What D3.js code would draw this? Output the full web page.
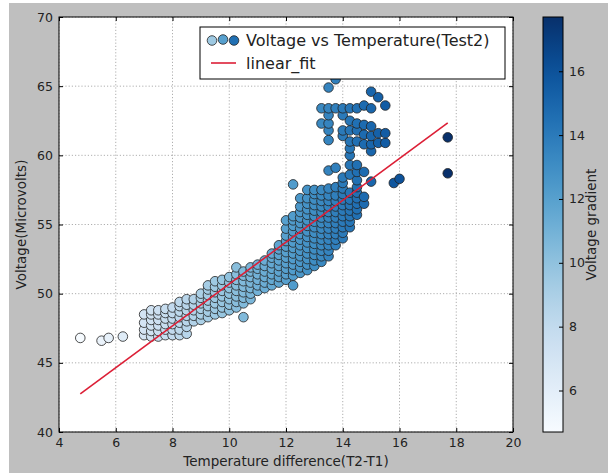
<!DOCTYPE html>
<html><head><meta charset="utf-8">
<script src="https://cdn.jsdelivr.net/npm/d3@7"></script>
<style>body{margin:0;background:#fff}svg{display:block}text{font-family:"DejaVu Sans",sans-serif;fill:#222}</style>
</head><body><svg id="c" width="608" height="473"></svg>
<script>
// ---- data ----
const xTicks = [4, 6, 8, 10, 12, 14, 16, 18, 20];
const yTicks = [40, 45, 50, 55, 60, 65, 70];
const colorbarTicks = [6, 8, 10, 12, 14, 16];
const colorDomain = [4.7, 17.7];

const columnTemps = [4.75, 5.5, 5.75, 6.25, 7.0, 7.25, 7.5, 7.75, 8.0, 8.25, 8.5, 8.75, 9.0, 9.25, 9.5, 9.75,
  10.0, 10.25, 10.5, 10.75, 11.0, 11.25, 11.5, 11.75, 12.0, 12.25, 12.5, 12.75, 13.0, 13.25, 13.5, 13.75,
  14.0, 14.25, 14.5, 14.75, 15.0, 15.25, 15.5, 15.8, 16.0, 17.7];
const columnVoltages = [
  [46.8], [46.6], [46.8], [46.9],
  [47.0, 47.4, 47.9, 48.5],
  [46.9, 47.3, 47.7, 48.1, 48.5, 48.8],
  [46.9, 47.3, 47.7, 48.1, 48.5, 48.8],
  [47.0, 47.4, 47.8, 48.2, 48.6, 48.9],
  [47.0, 47.4, 47.8, 48.2, 48.6, 49.0],
  [47.0, 47.4, 47.9, 48.3, 48.7, 49.1, 49.4],
  [47.1, 47.6, 48.0, 48.4, 48.8, 49.2, 49.6],
  [48.0, 48.4, 48.8, 49.2, 49.6],
  [48.1, 48.5, 48.9, 49.3, 49.7, 50.0],
  [48.3, 48.7, 49.1, 49.5, 49.9, 50.3, 50.6],
  [48.5, 48.9, 49.3, 49.7, 50.1, 50.5, 50.9],
  [48.6, 49.0, 49.4, 49.8, 50.2, 50.6, 51.0],
  [48.8, 49.2, 49.6, 50.0, 50.4, 50.8, 51.2],
  [49.0, 49.4, 49.8, 50.2, 50.6, 51.0, 51.4, 51.9],
  [48.3, 49.3, 49.7, 50.1, 50.5, 50.9, 51.3, 51.6],
  [49.6, 50.0, 50.4, 50.8, 51.2, 51.6, 51.9],
  [50.2, 50.6, 51.0, 51.4, 51.8, 52.1],
  [50.4, 50.8, 51.2, 51.6, 52.0, 52.4],
  [50.6, 51.0, 51.4, 51.8, 52.2, 52.6, 52.9],
  [50.8, 51.2, 51.6, 52.0, 52.4, 52.8, 53.2, 53.5],
  [51.0, 51.4, 51.8, 52.2, 52.6, 53.0, 53.4, 53.8, 54.2, 54.7, 55.3],
  [50.6, 51.3, 51.7, 52.1, 52.5, 52.9, 53.3, 53.7, 54.1, 54.5, 54.9, 55.3, 55.6, 57.9],
  [51.5, 51.9, 52.3, 52.7, 53.1, 53.5, 53.9, 54.3, 54.7, 55.1, 55.5, 55.9, 56.3, 56.9],
  [51.7, 52.1, 52.5, 52.9, 53.3, 53.7, 54.1, 54.5, 54.9, 55.3, 55.7, 56.1, 56.5, 56.9, 57.5],
  [52.0, 52.4, 52.8, 53.2, 53.6, 54.0, 54.4, 54.8, 55.2, 55.6, 56.0, 56.4, 56.8, 57.2, 57.5],
  [52.3, 52.7, 53.1, 53.5, 53.9, 54.3, 54.7, 55.1, 55.5, 55.9, 56.3, 56.7, 57.1, 57.5, 62.3, 63.4],
  [52.7, 53.1, 53.5, 53.9, 54.3, 54.7, 55.1, 55.5, 55.9, 56.3, 56.7, 57.1, 57.6, 58.9, 61.1, 61.8, 62.3, 62.9, 63.4, 64.9],
  [53.5, 53.9, 54.3, 54.7, 55.1, 55.5, 55.9, 56.3, 56.7, 57.1, 57.7, 59.1, 63.4, 65.5],
  [54.0, 54.4, 54.8, 55.2, 55.6, 56.0, 56.4, 56.8, 57.2, 57.6, 58.0, 58.4, 61.4, 61.8, 62.9, 63.4],
  [54.8, 55.2, 55.6, 56.0, 56.4, 56.8, 57.3, 58.6, 59.3, 60.0, 60.5, 61.0, 61.8, 62.5, 63.4],
  [55.7, 56.1, 56.5, 56.9, 57.3, 57.7, 58.2, 58.8, 59.3, 61.0, 61.8, 62.3, 63.4],
  [56.5, 57.0, 58.8, 60.8, 61.5, 62.2, 63.6],
  [58.1, 60.3, 60.8, 61.4, 62.1, 63.4, 64.6],
  [60.9, 61.6, 64.2],
  [60.9, 61.6, 63.6],
  [58.0],
  [58.3],
  [58.7, 61.3]
];
const fitTemps = [4.75, 17.7];
const fitVoltages = [42.75, 62.35];
const legendLabels = ["Voltage vs Temperature(Test2)", "linear_fit"];

// ---- drawing ----
const svg = d3.select("#c");
svg.append("rect").attr("x", 9).attr("y", 3).attr("width", 599).attr("height", 470).attr("fill", "#bfbfbf");

const L = 59, R = 513, T = 17, B = 432;
const x = d3.scaleLinear().domain([4, 20]).range([L, R]);
const y = d3.scaleLinear().domain([40, 70]).range([B, T]);
const color = d3.scaleSequential(d3.interpolateBlues).domain(colorDomain);

svg.append("rect").attr("x", L).attr("y", T).attr("width", R - L).attr("height", B - T).attr("fill", "#fff");

// grid
const grid = svg.append("g").attr("stroke", "#9a9a9a").attr("stroke-width", 0.8).attr("stroke-dasharray", "1.2,2");
grid.selectAll(".gx").data(xTicks).join("line")
  .attr("x1", d => x(d)).attr("x2", d => x(d)).attr("y1", T).attr("y2", B);
grid.selectAll(".gy").data(yTicks).join("line")
  .attr("y1", d => y(d)).attr("y2", d => y(d)).attr("x1", L).attr("x2", R);

// points
const points = columnTemps.flatMap((t, i) => columnVoltages[i].map(v => ({t, v})));
svg.append("g").selectAll("circle").data(points).join("circle")
  .attr("cx", d => x(d.t)).attr("cy", d => y(d.v)).attr("r", 4.8)
  .attr("fill", d => color(d.t)).attr("stroke", "#222").attr("stroke-width", 0.8);

// fit line
svg.append("path").datum(fitTemps.map((t, i) => [t, fitVoltages[i]]))
  .attr("d", d3.line().x(d => x(d[0])).y(d => y(d[1])))
  .attr("fill", "none").attr("stroke", "#dc1f36").attr("stroke-width", 1.6);

// axes
function styleAxis(g) {
  g.select(".domain").remove();
  g.selectAll(".tick line").attr("stroke", "#000");
  g.selectAll("text").attr("font-size", 12.5).attr("fill", "#222").style("font-family", '"DejaVu Sans",sans-serif');
}
svg.append("g").attr("transform", `translate(0,${B})`)
  .call(d3.axisBottom(x).tickValues(xTicks).tickSize(-4).tickPadding(6).tickFormat(d3.format("d"))).call(styleAxis);
svg.append("g").attr("transform", `translate(0,${T})`)
  .call(d3.axisTop(x).tickValues(xTicks).tickSize(-4).tickFormat("")).call(styleAxis);
svg.append("g").attr("transform", `translate(${L},0)`)
  .call(d3.axisLeft(y).tickValues(yTicks).tickSize(-4).tickPadding(6).tickFormat(d3.format("d"))).call(styleAxis);
svg.append("g").attr("transform", `translate(${R},0)`)
  .call(d3.axisRight(y).tickValues(yTicks).tickSize(-4).tickFormat("")).call(styleAxis);

svg.append("rect").attr("x", L).attr("y", T).attr("width", R - L).attr("height", B - T)
  .attr("fill", "none").attr("stroke", "#000").attr("stroke-width", 1);

// axis labels
svg.append("text").attr("x", (L + R) / 2).attr("y", 466).attr("text-anchor", "middle")
  .attr("font-size", 13.5).text("Temperature difference(T2-T1)");
svg.append("text").attr("transform", `translate(26,${(T + B) / 2}) rotate(-90)`).attr("text-anchor", "middle")
  .attr("font-size", 13.5).text("Voltage(Microvolts)");

// legend
const lg = svg.append("g");
lg.append("rect").attr("x", 200).attr("y", 27).attr("width", 305).attr("height", 52)
  .attr("fill", "#fff").attr("stroke", "#000").attr("stroke-width", 1);
const legendDots = [9.5, 12.0, 14.5];
lg.selectAll("circle").data(legendDots).join("circle")
  .attr("cx", (d, i) => 212 + i * 11).attr("cy", (d, i) => i === 1 ? 39.5 : 40.5).attr("r", 4.8)
  .attr("fill", d => color(d)).attr("stroke", "#222").attr("stroke-width", 0.8);
lg.append("line").attr("x1", 211).attr("x2", 236).attr("y1", 63).attr("y2", 63)
  .attr("stroke", "#dc1f36").attr("stroke-width", 1.6);
lg.selectAll("text").data(legendLabels).join("text")
  .attr("x", 246).attr("y", (d, i) => 46 + i * 23).attr("font-size", 16).text(d => d);

// colorbar
const cbL = 543, cbR = 563;
const cb = d3.scaleLinear().domain(colorDomain).range([B, T]);
const defs = svg.append("defs");
const grad = defs.append("linearGradient").attr("id", "cbg").attr("x1", 0).attr("x2", 0).attr("y1", 1).attr("y2", 0);
d3.range(0, 1.0001, 0.05).forEach(s => grad.append("stop").attr("offset", s).attr("stop-color", d3.interpolateBlues(s)));
svg.append("rect").attr("x", cbL).attr("y", T).attr("width", cbR - cbL).attr("height", B - T)
  .attr("fill", "url(#cbg)").attr("stroke", "#000").attr("stroke-width", 1);
svg.append("g").attr("transform", `translate(${cbR},0)`)
  .call(d3.axisRight(cb).tickValues(colorbarTicks).tickSize(-4).tickPadding(6).tickFormat(d3.format("d"))).call(styleAxis);
svg.append("text").attr("transform", `translate(596,${(T + B) / 2}) rotate(-90)`).attr("text-anchor", "middle")
  .attr("font-size", 13.5).text("Voltage gradient");
</script></body></html>
